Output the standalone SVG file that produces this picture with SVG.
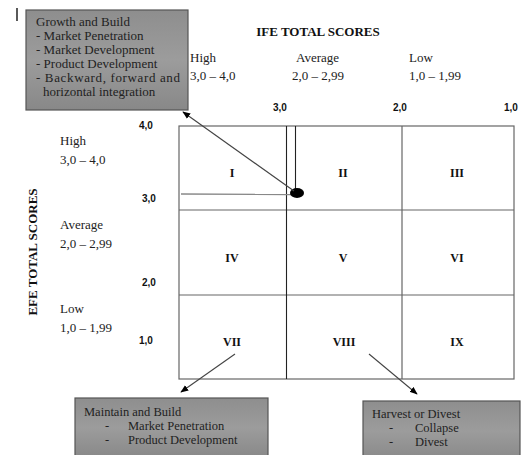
<svg xmlns="http://www.w3.org/2000/svg" width="523" height="455" viewBox="0 0 523 455">
<defs>
<linearGradient id="g" x1="0" y1="0" x2="0" y2="1">
<stop offset="0" stop-color="#8e8e8e"/>
<stop offset="0.5" stop-color="#9c9c9c"/>
<stop offset="1" stop-color="#888"/>
</linearGradient>
<marker id="ah" viewBox="0 0 10 10" refX="9" refY="5" markerWidth="8" markerHeight="8" orient="auto-start-reverse" markerUnits="userSpaceOnUse">
<path d="M0,1 L10,5 L0,9 z" fill="#000"/>
</marker>
<style>
.s{font-family:"Liberation Serif","Times New Roman",serif;font-size:13px;fill:#222}
.b{font-family:"Liberation Serif","Times New Roman",serif;font-size:12.5px;fill:#222}
.h{font-family:"Liberation Serif","Times New Roman",serif;font-size:13px;font-weight:bold;fill:#111}
.ax{font-family:"Liberation Sans",Arial,sans-serif;font-size:10px;font-weight:bold;fill:#111}
.r{font-family:"Liberation Serif","Times New Roman",serif;font-size:12px;font-weight:bold;fill:#111;text-anchor:middle}
.box{fill:url(#g);stroke:#555;stroke-width:1.2}
.grid{fill:none;stroke:#666;stroke-width:1.2}
.con{stroke:#444;stroke-width:1.1;fill:none}
</style>
</defs>
<rect width="523" height="455" fill="#fff"/>
<line x1="17" y1="8" x2="17" y2="21" stroke="#000" stroke-width="1.3"/>

<g id="titles">
<text class="h" x="318" y="36" text-anchor="middle">IFE TOTAL SCORES</text>
<text class="h" transform="translate(37,252) rotate(-90)" text-anchor="middle">EFE TOTAL SCORES</text>
<text class="s" x="190" y="62">High</text>
<text class="s" x="190" y="80">3,0 – 4,0</text>
<text class="s" x="296" y="62">Average</text>
<text class="s" x="292" y="80">2,0 – 2,99</text>
<text class="s" x="409" y="62">Low</text>
<text class="s" x="409" y="80">1,0 – 1,99</text>
<text class="s" x="60" y="145">High</text>
<text class="s" x="60" y="164">3,0 – 4,0</text>
<text class="s" x="60" y="229">Average</text>
<text class="s" x="60" y="248">2,0 – 2,99</text>
<text class="s" x="60" y="313">Low</text>
<text class="s" x="60" y="332">1,0 – 1,99</text>
<text class="ax" x="273" y="111">3,0</text>
<text class="ax" x="393" y="111">2,0</text>
<text class="ax" x="504" y="111">1,0</text>
<text class="ax" x="139" y="129">4,0</text>
<text class="ax" x="142" y="202">3,0</text>
<text class="ax" x="142" y="286">2,0</text>
<text class="ax" x="139" y="344">1,0</text>
</g>

<g id="matrix">
<rect class="grid" x="179" y="126" width="335" height="253"/>
<line class="grid" x1="179" y1="210" x2="514" y2="210"/>
<line class="grid" x1="179" y1="295" x2="514" y2="295"/>
<line x1="286.5" y1="126" x2="286.5" y2="379" stroke="#222" stroke-width="1.1"/>
<line class="grid" x1="402" y1="126" x2="402" y2="379"/>
<text class="r" x="232" y="177">I</text>
<text class="r" x="343" y="177">II</text>
<text class="r" x="457" y="177">III</text>
<text class="r" x="232" y="262">IV</text>
<text class="r" x="343" y="262">V</text>
<text class="r" x="457" y="262">VI</text>
<text class="r" x="232" y="346">VII</text>
<text class="r" x="344" y="346">VIII</text>
<text class="r" x="457" y="346">IX</text>
</g>

<g id="position">
<line x1="295.5" y1="126" x2="295.5" y2="190" stroke="#222" stroke-width="1.1"/>
<line x1="181" y1="194" x2="291" y2="194.5" stroke="#888" stroke-width="1.3"/>
<ellipse cx="297" cy="193" rx="7" ry="5" fill="#000"/>
</g>

<g id="connectors">
<line class="con" x1="294" y1="191" x2="183" y2="112" marker-end="url(#ah)"/>
<line class="con" x1="235" y1="354" x2="181" y2="392" marker-end="url(#ah)"/>
<line class="con" x1="369" y1="354" x2="417" y2="394" marker-end="url(#ah)"/>
</g>

<g id="growth">
<rect class="box" x="26" y="10" width="162" height="100"/>
<text class="s" x="36" y="26">Growth and Build</text>
<text class="s" x="36" y="40">- Market Penetration</text>
<text class="s" x="36" y="54">- Market Development</text>
<text class="s" x="36" y="68">- Product Development</text>
<text class="s" x="36" y="82" textLength="144" lengthAdjust="spacing">- Backward,  forward  and</text>
<text class="s" x="43" y="96">horizontal integration</text>
</g>

<g id="maintain">
<rect class="box" x="75" y="398" width="193" height="60"/>
<text class="b" x="84" y="416">Maintain and Build</text>
<text class="b" x="105" y="430">-</text>
<text class="b" x="128" y="430">Market Penetration</text>
<text class="b" x="105" y="444">-</text>
<text class="b" x="128" y="444">Product Development</text>
</g>

<g id="harvest">
<rect class="box" x="363" y="401" width="157" height="60"/>
<text class="b" x="372" y="418">Harvest or Divest</text>
<text class="b" x="389" y="432">-</text>
<text class="b" x="415" y="432">Collapse</text>
<text class="b" x="389" y="446">-</text>
<text class="b" x="415" y="446">Divest</text>
</g>
</svg>
